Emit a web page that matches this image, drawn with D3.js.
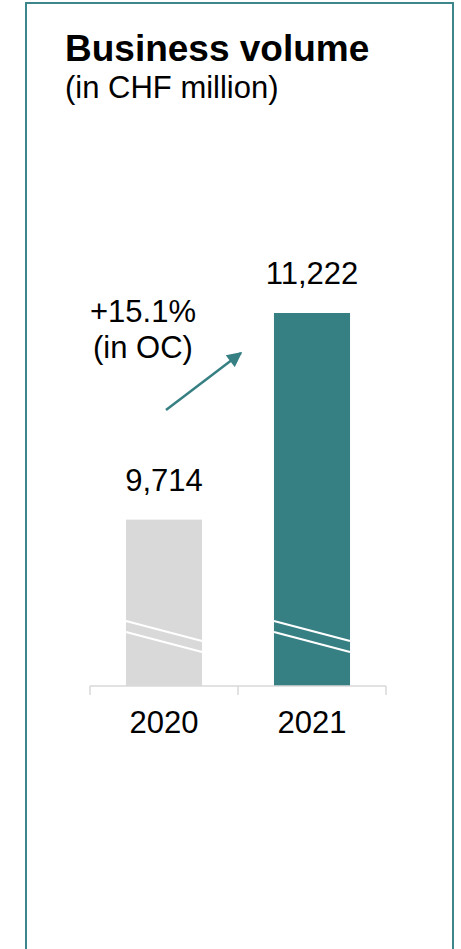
<!DOCTYPE html>
<html>
<head>
<meta charset="utf-8">
<script src="https://cdn.jsdelivr.net/npm/d3@7"></script>
<style>
  html, body { margin: 0; padding: 0; background: #fff; }
  svg { display: block; }
  text { font-family: "Liberation Sans", Arial, sans-serif; }
</style>
</head>
<body>
<svg id="chart" width="461" height="949"></svg>
<script>
// Business volume, CHF million
const years = ["2020", "2021"];
const volumes = [9714, 11222];
const valueLabels = ["9,714", "11,222"];
const barColors = ["#d9d9d9", "#367f83"];
const growthLabel = ["+15.1%", "(in OC)"];
const axisBreakBase = 8500; // value axis is broken below this level

const svg = d3.select("#chart");
const teal = "#367f83";

// panel frame (open at the bottom)
svg.append("path")
  .attr("d", "M26,949 V3 H453 V949")
  .attr("fill", "none")
  .attr("stroke", "#3d878c")
  .attr("stroke-width", 2);

// title block
svg.append("text")
  .attr("x", 65).attr("y", 61)
  .attr("font-size", 37).attr("font-weight", "bold").attr("fill", "#000")
  .text("Business volume");
svg.append("text")
  .attr("x", 65).attr("y", 98)
  .attr("font-size", 31).attr("fill", "#000")
  .text("(in CHF million)");

// scales
const x = d3.scaleBand()
  .domain(years)
  .range([90, 386])
  .paddingInner(0.486)
  .paddingOuter(0.243);

const y = d3.scaleLinear()
  .domain([axisBreakBase, d3.max(volumes)])
  .range([686, 313]);

const data = years.map((yr, i) => ({ year: yr, value: volumes[i], label: valueLabels[i], color: barColors[i] }));

// bars
svg.append("g").selectAll("rect")
  .data(data)
  .join("rect")
  .attr("x", d => x(d.year))
  .attr("y", d => y(d.value))
  .attr("width", x.bandwidth())
  .attr("height", d => y.range()[0] - y(d.value))
  .attr("fill", d => d.color);

// axis-break marks across each bar
const base = y.range()[0];
const breaks = svg.append("g");
data.forEach(d => {
  const x0 = x(d.year), x1 = x0 + x.bandwidth();
  [0, 11].forEach(off => {
    breaks.append("line")
      .attr("x1", x0).attr("y1", base - 65 + off)
      .attr("x2", x1).attr("y2", base - 45 + off)
      .attr("stroke", "#fff").attr("stroke-width", 2.2);
  });
});

// category axis with ticks at band boundaries
const axisG = svg.append("g");
axisG.append("line")
  .attr("x1", x.range()[0]).attr("x2", x.range()[1])
  .attr("y1", base).attr("y2", base)
  .attr("stroke", "#d9d9d9").attr("stroke-width", 1.5);
const tickXs = [x.range()[0], (x("2020") + x.bandwidth() + x("2021")) / 2, x.range()[1]];
axisG.selectAll("line.tick")
  .data(tickXs)
  .join("line")
  .attr("class", "tick")
  .attr("x1", d => d).attr("x2", d => d)
  .attr("y1", base).attr("y2", base + 9)
  .attr("stroke", "#d9d9d9").attr("stroke-width", 1.5);

axisG.selectAll("text")
  .data(years)
  .join("text")
  .attr("x", d => x(d) + x.bandwidth() / 2)
  .attr("y", 733)
  .attr("text-anchor", "middle")
  .attr("font-size", 31)
  .attr("fill", "#000")
  .text(d => d);

// value labels above bars
svg.append("g").selectAll("text")
  .data(data)
  .join("text")
  .attr("x", d => x(d.year) + x.bandwidth() / 2)
  .attr("y", d => y(d.value) - 29)
  .attr("text-anchor", "middle")
  .attr("font-size", 31)
  .attr("fill", "#000")
  .text(d => d.label);

// growth annotation
svg.append("text")
  .attr("x", 143).attr("y", 322)
  .attr("text-anchor", "middle")
  .attr("font-size", 31).attr("fill", "#000")
  .text(growthLabel[0]);
svg.append("text")
  .attr("x", 143).attr("y", 358)
  .attr("text-anchor", "middle")
  .attr("font-size", 31).attr("fill", "#000")
  .text(growthLabel[1]);

svg.append("defs").append("marker")
  .attr("id", "arrowhead")
  .attr("viewBox", "0 0 10 10")
  .attr("refX", 9).attr("refY", 5)
  .attr("markerUnits", "userSpaceOnUse")
  .attr("markerWidth", 16).attr("markerHeight", 15)
  .attr("orient", "auto")
  .append("path")
  .attr("d", "M0,0 L10,5 L0,10 Z")
  .attr("fill", teal);

svg.append("line")
  .attr("x1", 166).attr("y1", 410)
  .attr("x2", 241).attr("y2", 353)
  .attr("stroke", teal).attr("stroke-width", 2.5)
  .attr("marker-end", "url(#arrowhead)");
</script>
</body>
</html>
